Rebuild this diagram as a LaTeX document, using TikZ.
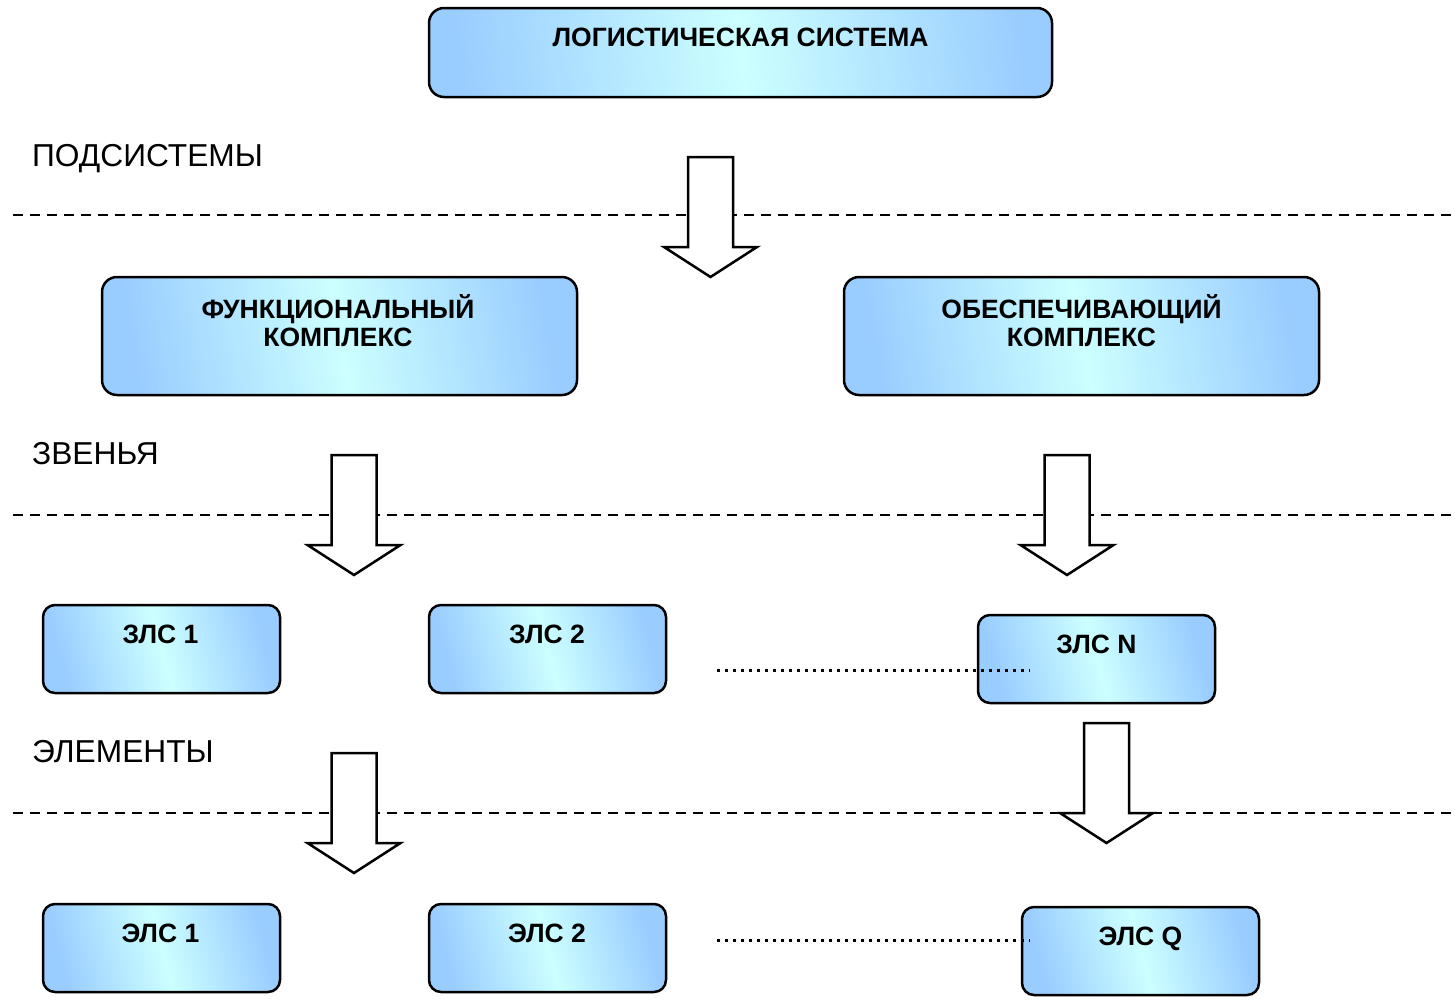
\documentclass[tikz,border=0pt]{standalone}
\usepackage{fontspec}
\setmainfont{Liberation Sans}
\definecolor{boxblue}{HTML}{99CCFF}
\definecolor{boxlight}{HTML}{CCFFFF}
\begin{document}
\begin{tikzpicture}[x=1pt,y=-1pt,
  box/.style={draw=black, line width=2.5pt, rounded corners=15pt, top color=boxblue, bottom color=boxblue, middle color=boxlight, inner sep=0pt},
  topbox/.style={box, shading angle=-84, minimum width=623pt, minimum height=89pt},
  bigbox/.style={box, shading angle=-80, minimum width=475pt, minimum height=118pt},
  smallbox/.style={box, shading angle=-75, rounded corners=12pt, minimum width=237pt, minimum height=88pt},
  btext/.style={font=\fontsize{26.5}{27.7}\selectfont\bfseries, align=center, anchor=base, inner sep=0pt},
  lvl/.style={font=\fontsize{31.7}{36}\selectfont, anchor=base west, inner sep=0pt},
  sep/.style={line width=2pt, dash pattern=on 10pt off 7pt},
  dots/.style={line width=3pt, dash pattern=on 3pt off 5pt},
  barrow/.style={draw=black, fill=white, line width=2.5pt, line join=miter},
  blockarr/.pic={\path[barrow] (-22.5,0) -- (22.5,0) -- (22.5,90) -- (46.5,90) -- (0,120) -- (-46.5,90) -- (-22.5,90) -- cycle;}
]
\useasboundingbox (0,0) rectangle (1455,999);

% separator lines
\coordinate (s1a) at (13,215);  \coordinate (s1b) at (1455,215);
\coordinate (s2a) at (13,515);  \coordinate (s2b) at (1455,515);
\coordinate (s3a) at (13,813);  \coordinate (s3b) at (1455,813);
\draw[sep] (s1a) -- (s1b);
\draw[sep] (s2a) -- (s2b);
\draw[sep] (s3a) -- (s3b);

% level labels
\node[lvl] (lsub) at (32,166.7) {ПОДСИСТЕМЫ};
\node[lvl] (llink) at (32,464.3) {ЗВЕНЬЯ};
\node[lvl] (lelem) at (32,762.5) {ЭЛЕМЕНТЫ};

% boxes
\node[topbox] (ls) at (740.5,52.5) {};
\node[btext] (lst) at (740.5,46.7) {ЛОГИСТИЧЕСКАЯ СИСТЕМА};

\node[bigbox] (fk) at (339.5,336) {};
\node[btext] (fkt) at (338,346.5) {ФУНКЦИОНАЛЬНЫЙ\\КОМПЛЕКС};
\node[bigbox] (ok) at (1081.5,336) {};
\node[btext] (okt) at (1081.5,346.5) {ОБЕСПЕЧИВАЮЩИЙ\\КОМПЛЕКС};

\node[smallbox] (z1) at (161.5,649) {};
\node[btext] (z1t) at (160.5,643.3) {ЗЛС 1};
\node[smallbox] (z2) at (547.5,649) {};
\node[btext] (z2t) at (547,643.3) {ЗЛС 2};
\node[smallbox] (zn) at (1096.5,659) {};
\node[btext] (znt) at (1096.5,653.3) {ЗЛС N};

\node[smallbox] (e1) at (161.5,948) {};
\node[btext] (e1t) at (160.5,942.3) {ЭЛС 1};
\node[smallbox] (e2) at (547.5,948) {};
\node[btext] (e2t) at (547,942.3) {ЭЛС 2};
\node[smallbox] (eq) at (1140.5,951) {};
\node[btext] (eqt) at (1140.5,945.3) {ЭЛС Q};

% block arrows
\pic (a1) at (710.5,157) {blockarr};
\pic (a2) at (354,455) {blockarr};
\pic (a3) at (1067,455) {blockarr};
\pic (a4) at (1106.5,723) {blockarr};
\pic (a5) at (354,753) {blockarr};

% dotted lines
\coordinate (d1a) at (717,670); \coordinate (d1b) at (1030,670);
\coordinate (d2a) at (717,940); \coordinate (d2b) at (1030,940);
\draw[dots] (d1a) -- (d1b);
\draw[dots] (d2a) -- (d2b);
\end{tikzpicture}
\end{document}
